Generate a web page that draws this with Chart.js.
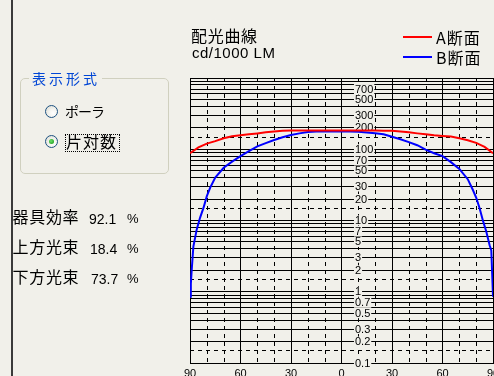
<!DOCTYPE html>
<html><head><meta charset="utf-8">
<script src="https://cdn.jsdelivr.net/npm/chart.js@4/dist/chart.umd.min.js"></script>
<style>
html,body{margin:0;padding:0;background:#f1f0ea;width:494px;height:376px;overflow:hidden;}
#wrap{position:relative;width:494px;height:376px;background:#f1f0ea;}
canvas{position:absolute;left:0;top:0;}
.t{position:absolute;white-space:nowrap;font-family:"Noto Sans CJK JP",sans-serif;color:#000;line-height:1;}
.n{position:absolute;white-space:nowrap;font-family:"Liberation Sans",Arial,sans-serif;color:#000;line-height:1;}
.frame{position:absolute;left:11px;top:0;width:2px;height:376px;background:#3a3a3a;}
.group{position:absolute;left:20px;top:78px;width:147px;height:94px;border:1px solid #d0d0bf;border-radius:5px;}
.radio{position:absolute;width:11px;height:11px;border:1px solid #1c5180;border-radius:50%;background:radial-gradient(circle at 65% 65%,#ffffff 0%,#f4f4f0 40%,#d8d8cf 100%);}
.dot{position:absolute;left:3px;top:3px;width:5px;height:5px;border-radius:50%;background:radial-gradient(circle at 40% 40%,#6ce06c 0%,#21a121 80%);}
.focus{position:absolute;left:65px;top:134px;width:53px;height:16px;border:1px dotted #000;}
.leg{position:absolute;height:2px;width:29px;left:403px;}
</style></head><body>
<div id="wrap">
<canvas id="c" width="494" height="376"></canvas>
<div class="frame"></div>
<div class="group"></div>
<div class="t" style="left:29px;top:71px;font-size:14px;letter-spacing:3px;color:#0046d5;background:#f1f0ea;padding:0 2px 0 3px;">表示形式</div>
<div class="radio" style="left:45px;top:105px;"></div>
<div class="t" style="left:65px;top:103.6px;font-size:14px;letter-spacing:-1px;">ポーラ</div>
<div class="radio" style="left:45px;top:135px;"><div class="dot"></div></div>
<div class="focus"></div>
<div class="t" style="left:66px;top:133.4px;font-size:16px;letter-spacing:1px;">片対数</div>

<div class="t" style="left:12.5px;top:208.4px;font-size:16px;letter-spacing:0.7px;">器具効率</div>
<div class="n" style="left:89px;top:211.5px;font-size:14px;">92.1</div>
<div class="n" style="left:127px;top:211.5px;font-size:13px;">%</div>
<div class="t" style="left:12.5px;top:238.4px;font-size:16px;letter-spacing:0.7px;">上方光束</div>
<div class="n" style="left:90px;top:241.5px;font-size:14px;">18.4</div>
<div class="n" style="left:127px;top:241.5px;font-size:13px;">%</div>
<div class="t" style="left:12.5px;top:268.4px;font-size:16px;letter-spacing:0.7px;">下方光束</div>
<div class="n" style="left:91px;top:271.5px;font-size:14px;">73.7</div>
<div class="n" style="left:127px;top:271.5px;font-size:13px;">%</div>

<div class="t" style="left:191px;top:26.7px;font-size:16px;letter-spacing:0.7px;">配光曲線</div>
<div class="n" style="left:192px;top:44.7px;font-size:15px;letter-spacing:0.5px;">cd/1000 LM</div>
<div class="leg" style="top:36px;background:#ff0000;"></div>
<div class="t" style="left:436px;top:28.5px;font-size:16px;letter-spacing:1px;">A断面</div>
<div class="leg" style="top:56px;background:#0000ff;"></div>
<div class="t" style="left:436px;top:48.5px;font-size:16px;letter-spacing:1px;">B断面</div>
</div>
<script>
// ---- data ----
const seriesNames = ['A断面', 'B断面'];
const anglesA = [-90,-85,-80,-75,-70,-65,-60,-55,-50,-45,-40,-35,-30,-25,-20,-15,-10,-5,0,5,10,15,20,25,30,35,40,45,50,55,60,65,70,75,80,85,90];
const candelaA = [88,106,120,130,143,152,157,162,167,173,178,182,184,184,184,184,184,184,183,183,183,183,183,182,182,178,173,167,162,157,154,151,143,134,123,108,88];
const anglesB = [-90,-89.5,-89,-88,-86,-84,-82,-80,-78,-75,-70,-65,-60,-55,-50,-45,-40,-35,-30,-25,-20,-15,-10,-5,0,5,10,15,20,25,30,35,40,45,50,55,60,65,70,75,78,80,82,84,86,88,89,89.5,90];
const candelaB = [0.85,1.3,2.0,4.3,7.5,11,15,22,29,40,55,67,80,94,110,122,135,147,158,167,174,177,177,177,177,177,176,172,168,162,150,138,126,114,99,88,80,66,53,38,27,21,15,10,7,4.5,3.8,1.8,0.85];
const xTickValues = [-90,-60,-30,0,30,60,90];
const xTickLabels = ['90','60','30','0','30','60','90'];
const xDashValues = [-80,-70,-50,-40,-20,-10,10,20,40,50,70,80];
const yGridValues = [0.1,0.2,0.3,0.4,0.5,0.6,0.7,0.8,0.9,1,2,3,4,5,6,7,8,9,10,20,30,40,50,60,70,80,90,100,200,300,400,500,600,700,800,900,1000];
const yDashValues = [0.15,1.5,15,150];
const yLabelValues = [700,500,300,200,100,70,50,30,20,10,7,5,3,2,1,0.7,0.5,0.3,0.2,0.1];
const yLabelTexts = ['700','500','300','200','100','70','50','30','20','10','7','5','3','2','1','0.7','0.5','0.3','0.2','0.1'];

const BG = '#f1f0ea';
const extras = {
  id: 'extras',
  beforeDatasetsDraw(chart) {
    const {ctx, chartArea: a, scales: {x, y}} = chart;
    ctx.save();
    ctx.strokeStyle = '#000';
    ctx.lineWidth = 1;
    ctx.setLineDash([4, 4]);
    xDashValues.forEach(v => {
      const px = Math.round(x.getPixelForValue(v)) + 0.5;
      ctx.beginPath(); ctx.moveTo(px, a.top); ctx.lineTo(px, a.bottom); ctx.stroke();
    });
    yDashValues.forEach(v => {
      const py = Math.round(y.getPixelForValue(v)) + 0.5;
      ctx.beginPath(); ctx.moveTo(a.left, py); ctx.lineTo(a.right, py); ctx.stroke();
    });
    ctx.setLineDash([]);
    ctx.font = '11px "Liberation Sans", Arial, sans-serif';
    ctx.textAlign = 'left';
    ctx.textBaseline = 'middle';
    const lx = x.getPixelForValue(8);
    yLabelValues.forEach((v, i) => {
      const py = y.getPixelForValue(v);
      const t = yLabelTexts[i];
      const w = ctx.measureText(t).width;
      ctx.fillStyle = BG;
      ctx.fillRect(lx - 1, py - 5, w + 2, 10);
      ctx.fillStyle = '#000';
      ctx.fillText(t, lx, py + 0.5);
    });
    ctx.textAlign = 'center';
    ctx.textBaseline = 'top';
    xTickValues.forEach((v, i) => {
      ctx.fillText(xTickLabels[i], x.getPixelForValue(v), a.bottom + 5);
    });
    ctx.restore();
  }
};

new Chart(document.getElementById('c'), {
  type: 'line',
  data: {
    datasets: [
      {label: seriesNames[0], data: anglesA.map((a, i) => ({x: a, y: candelaA[i]})), borderColor: '#ff0000', borderWidth: 2, pointRadius: 0, tension: 0, fill: false},
      {label: seriesNames[1], data: anglesB.map((a, i) => ({x: a, y: candelaB[i]})), borderColor: '#0000ff', borderWidth: 2, pointRadius: 0, tension: 0, fill: false}
    ]
  },
  options: {
    responsive: false,
    animation: false,
    events: [],
    layout: {padding: {left: 190, top: 78, right: 1, bottom: 13}},
    plugins: {legend: {display: false}, tooltip: {enabled: false}},
    scales: {
      x: {
        type: 'linear', min: -90, max: 90,
        afterBuildTicks: s => { s.ticks = xTickValues.map(v => ({value: v})); },
        grid: {color: '#000', lineWidth: 1, drawTicks: false},
        border: {display: true, color: '#000', width: 1},
        ticks: {display: false}
      },
      y: {
        type: 'logarithmic', min: 0.1, max: 1000,
        afterBuildTicks: s => { s.ticks = yGridValues.map(v => ({value: v})); },
        grid: {color: '#000', lineWidth: 1, drawTicks: false},
        border: {display: true, color: '#000', width: 1},
        ticks: {display: false}
      }
    }
  },
  plugins: [extras]
});
</script>
</body></html>
